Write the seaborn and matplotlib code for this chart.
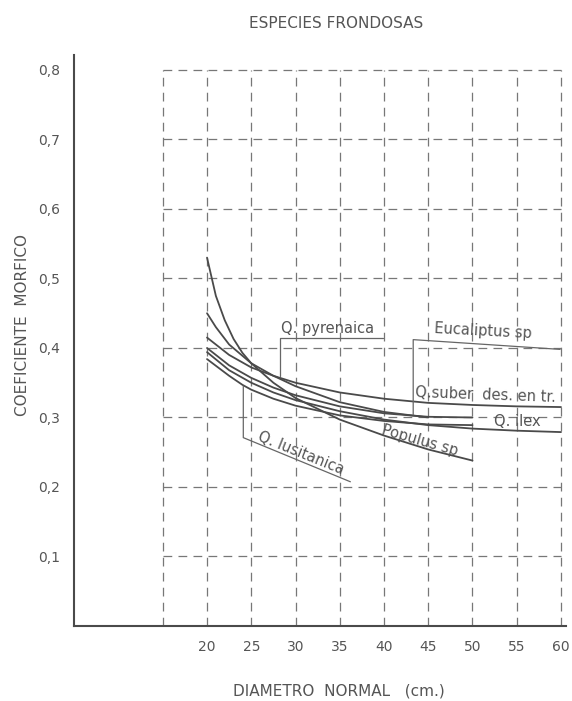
import matplotlib
matplotlib.use("Agg")
import matplotlib.pyplot as plt
import seaborn as sns

# coeficiente morfico por especie
populus_d = [20, 21, 22, 23, 24, 25, 27.5, 30, 35, 40, 45, 50]
populus_c = [0.53, 0.475, 0.44, 0.413, 0.393, 0.378, 0.35, 0.328, 0.297, 0.274, 0.254, 0.238]

pyrenaica_d = [20, 21, 22.5, 25, 27.5, 30, 35, 40, 45]
pyrenaica_c = [0.45, 0.43, 0.405, 0.378, 0.36, 0.345, 0.322, 0.308, 0.30]

suber_d = [20, 22.5, 25, 27.5, 30, 35, 40, 45, 50, 55, 60]
suber_c = [0.415, 0.39, 0.372, 0.36, 0.35, 0.336, 0.327, 0.321, 0.318, 0.316, 0.315]

eucaliptus_d = [20, 22.5, 25, 27.5, 30, 35, 40, 45, 50]
eucaliptus_c = [0.40, 0.375, 0.357, 0.343, 0.332, 0.316, 0.306, 0.301, 0.30]

ilex_d = [20, 22.5, 25, 27.5, 30, 35, 40, 45, 50, 55, 60]
ilex_c = [0.394, 0.368, 0.35, 0.336, 0.325, 0.309, 0.297, 0.289, 0.284, 0.281, 0.279]

lusitanica_d = [20, 22.5, 24, 25, 27.5, 30, 35, 40, 45, 50]
lusitanica_c = [0.384, 0.36, 0.347, 0.34, 0.327, 0.317, 0.303, 0.295, 0.29, 0.289]

x_ticks = [20, 25, 30, 35, 40, 45, 50, 55, 60]
y_ticks = [0.1, 0.2, 0.3, 0.4, 0.5, 0.6, 0.7, 0.8]
y_tick_labels = ["0,1", "0,2", "0,3", "0,4", "0,5", "0,6", "0,7", "0,8"]
grid_x = [15, 20, 25, 30, 35, 40, 45, 50, 55, 60]

sns.set_style("white")
plt.rcParams["font.family"] = ["DejaVu Sans"]

tinta = "#4a4a4a"
texto = "#555555"

fig = plt.figure(figsize=(5.72, 7.01), dpi=100)
ax = fig.add_axes([0.1294, 0.107, 0.860, 0.8146])

# reticula discontinua
ax.vlines(grid_x, 0, 0.8, colors="#777777", linewidth=0.9, linestyles=(0, (7, 5)))
ax.hlines(y_ticks, 15, 60, colors="#777777", linewidth=0.9, linestyles=(0, (7, 5)))

for d, c in [(populus_d, populus_c), (pyrenaica_d, pyrenaica_c), (suber_d, suber_c),
             (eucaliptus_d, eucaliptus_c), (ilex_d, ilex_c), (lusitanica_d, lusitanica_c)]:
    sns.lineplot(x=d, y=c, ax=ax, color=tinta, linewidth=1.3)

# rotulos de las curvas
fs = 10.5
ax.plot([28.2, 28.2, 39.9], [0.36, 0.414, 0.414], color="#666666", lw=0.9)
ax.text(28.4, 0.417, "Q. pyrenaica", fontsize=fs, color=texto, ha="left", va="bottom")

ax.plot([43.3, 43.3, 59.9], [0.304, 0.412, 0.398], color="#666666", lw=0.9)
ax.text(51.2, 0.414, "Eucaliptus sp", fontsize=fs, color=texto, ha="center", va="bottom",
        rotation=-3, rotation_mode="anchor")

ax.text(51.4, 0.322, "Q.suber  des. en tr.", fontsize=fs, color=texto, ha="center", va="bottom",
        rotation=-2, rotation_mode="anchor")

ax.text(55.1, 0.283, "Q. ilex", fontsize=fs, color=texto, ha="center", va="bottom")

ax.text(44.0, 0.266, "Populus sp", fontsize=fs, color=texto, ha="center", va="center",
        rotation=-16, rotation_mode="anchor")

ax.plot([24.1, 24.1, 36.2], [0.345, 0.271, 0.2075], color="#666666", lw=0.9)
ax.text(30.6, 0.249, "Q. lusitanica", fontsize=fs, color=texto, ha="center", va="center",
        rotation=-22, rotation_mode="anchor")

ax.set_xlim(4.97, 60.56)
ax.set_ylim(0, 0.8216)
ax.set_xticks(x_ticks)
ax.set_yticks(y_ticks)
ax.set_yticklabels(y_tick_labels)
ax.tick_params(axis="x", length=0, pad=10, labelsize=10, labelcolor=texto)
ax.tick_params(axis="y", direction="in", length=4, width=0.9, color=tinta, pad=10,
               labelsize=10, labelcolor=texto)
for lado in ["top", "right"]:
    ax.spines[lado].set_visible(False)
for lado in ["left", "bottom"]:
    ax.spines[lado].set_color(tinta)
    ax.spines[lado].set_linewidth(1.5)

fig.text(249 / 572, 1 - 23 / 701, "ESPECIES FRONDOSAS", fontsize=11, color=texto,
         ha="left", va="center")
fig.text(233 / 572, 1 - 691 / 701, "DIAMETRO  NORMAL   (cm.)", fontsize=11, color=texto,
         ha="left", va="center")
fig.text(23 / 572, 1 - 325 / 701, "COEFICIENTE  MORFICO", fontsize=11, color=texto,
         ha="center", va="center", rotation=90)

fig.savefig("out.png", dpi=100, facecolor="white")
